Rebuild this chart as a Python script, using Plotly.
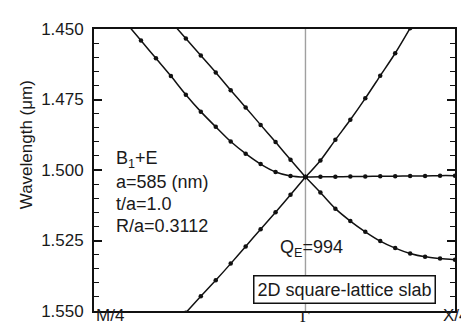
import plotly.graph_objects as go
import math

# ---------------- data ----------------
K_STEP = 0.025                      # k spacing between computed points
M4 = -0.25 * math.sqrt(2)           # position of M/4 (Gamma at 0, X/4 at 0.25)
X4 = 0.25

# Gamma -> M/4 direction (index n => k = -n*K_STEP)
band_m_lower = [1.5025, 1.5088, 1.5150, 1.5210, 1.5271, 1.5332, 1.5391, 1.5448, 1.5506]
band_m_curved = [1.5025, 1.5021, 1.5007, 1.4979, 1.4942, 1.4899, 1.4847, 1.4793,
                 1.4733, 1.4667, 1.4604, 1.4541, 1.4478]
band_m_upper = [1.5025, 1.4964, 1.4901, 1.4840, 1.4778, 1.4717, 1.4654, 1.4594, 1.4534, 1.4473]

# Gamma -> X/4 direction (index n => k = +n*K_STEP)
band_x_upper = [1.5025, 1.4966, 1.4893, 1.4822, 1.4746, 1.4666, 1.4586, 1.4497]
band_x_flat = [1.5025, 1.5024, 1.5024, 1.5023, 1.5023, 1.5022, 1.5022, 1.5021, 1.5021, 1.5020, 1.5020]
band_x_lower = [1.5025, 1.5080, 1.5137, 1.5181, 1.5219, 1.5252, 1.5277, 1.5296, 1.5308, 1.5314, 1.5318]

y_ticks = [1.450, 1.475, 1.500, 1.525, 1.550]
x_labels = ["M/4", "Γ", "X/4"]

FONT = "Liberation Sans, Arial, Helvetica, sans-serif"
TXT = "#1a1a1a"

fig = go.Figure()

def add_band(vals, sign):
    ks = [sign * K_STEP * i for i in range(len(vals))]
    fig.add_trace(go.Scatter(
        x=ks, y=vals, mode="lines+markers",
        line=dict(color="#111111", width=1.5, shape="spline", smoothing=0.8),
        marker=dict(color="#111111", size=4.5),
        showlegend=False, hoverinfo="skip", cliponaxis=True))

# Gamma vertical line
fig.add_trace(go.Scatter(x=[0, 0], y=[y_ticks[0], y_ticks[-1]], mode="lines",
                         line=dict(color="#a0a0a0", width=1.4),
                         showlegend=False, hoverinfo="skip"))

for b in (band_m_lower, band_m_curved, band_m_upper):
    add_band(b, -1)
for b in (band_x_upper, band_x_flat, band_x_lower):
    add_band(b, 1)

W, H = 469, 325
L, R, T, B = 86, 447, 14, 305

def px(x):
    return (x - L) / (R - L)

def py(y):
    return (B - y) / (B - T)

ann = []
def text(s, x, y, xanchor="left", size=18, **kw):
    ann.append(dict(text=s, x=px(x), y=py(y), xref="paper", yref="paper",
                    xanchor=xanchor, yanchor="middle", showarrow=False,
                    font=dict(family=FONT, size=size, color=TXT), **kw))

text("B<sub>1</sub>+E", 106, 149)
text("a=585 (nm)", 106, 172)
text("t/a=1.0", 106, 195)
text("R/a=0.3112", 106, 217)
text("Q<sub>E</sub>=994", 270, 240)
text("2D square-lattice slab", 336.5, 282.5, xanchor="center",
     bgcolor="white", bordercolor="#111111", borderwidth=1.5, borderpad=3)
# y-axis title
text("Wavelength (μm)", 18, 134, xanchor="center", size=17, textangle=-90)
# x-axis labels
text(x_labels[0], 87, 310, size=17, borderpad=0)
ann.append(dict(text=x_labels[1], x=0, y=py(311), xref="x", yref="paper",
                xanchor="center", yanchor="middle", showarrow=False, borderpad=0,
                font=dict(family="Liberation Serif, Times New Roman, serif", size=17, color=TXT)))
ann.append(dict(text=x_labels[2], x=X4, y=py(310), xref="x", yref="paper",
                xanchor="center", yanchor="middle", showarrow=False, xshift=1, borderpad=0,
                font=dict(family=FONT, size=17, color=TXT)))

fig.update_layout(
    width=W, height=H,
    margin=dict(l=L, r=W - R, t=T, b=H - B, pad=0),
    paper_bgcolor="white", plot_bgcolor="white",
    font=dict(family=FONT, size=17, color=TXT),
    annotations=ann,
    xaxis=dict(range=[M4, X4], showgrid=False, zeroline=False,
               showticklabels=False, ticks="",
               showline=True, linecolor="#111111", linewidth=1.8, mirror=True),
    yaxis=dict(range=[y_ticks[-1], y_ticks[0]], showgrid=False, zeroline=False,
               tickvals=y_ticks, tickformat=".3f",
               ticks="inside", ticklen=8, tickwidth=1.6, tickcolor="#111111",
               minor=dict(dtick=0.005, ticks="inside", ticklen=5, tickwidth=1.4,
                          tickcolor="#111111", showgrid=False),
               showline=True, linecolor="#111111", linewidth=1.8, mirror="ticks",
               tickfont=dict(family=FONT, size=17, color=TXT), ticklabelstandoff=5),
)

fig.write_html("out.html")
